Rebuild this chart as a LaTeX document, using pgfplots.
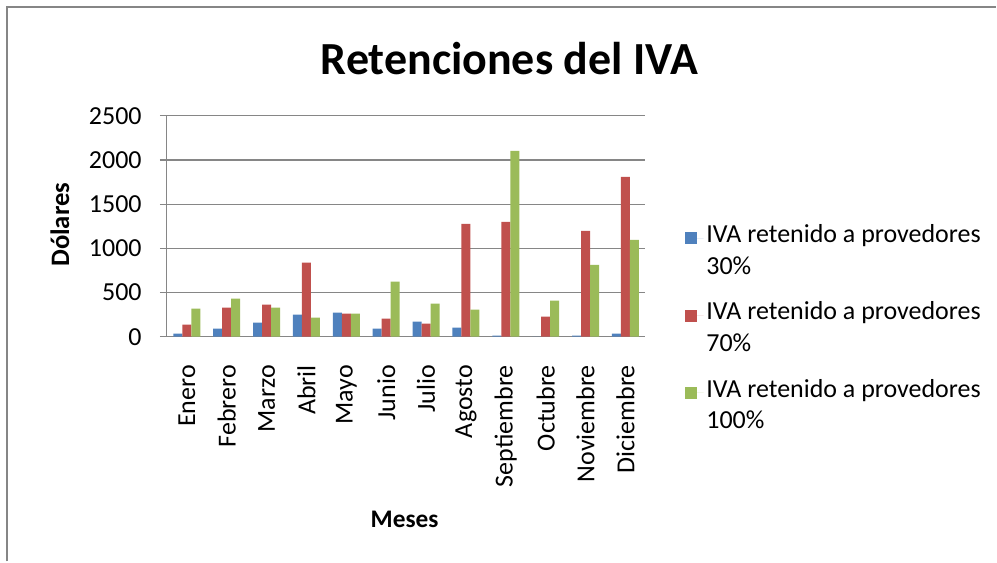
\documentclass[border=0pt]{standalone}
\usepackage{fontspec}
\setmainfont{Carlito}
\usepackage{pgfplots}
\pgfplotsset{compat=1.18}
\definecolor{cblue}{HTML}{4F81BD}
\definecolor{cred}{HTML}{C0504D}
\definecolor{cgreen}{HTML}{9BBB59}
\definecolor{cgrid}{HTML}{868686}
\pgfplotsset{sqlegend/.style={legend image code/.code={\fill[##1] (0pt,4.5pt) rectangle (9pt,13.5pt); \path (9pt,9pt) -- (14pt,9pt);}}}
\begin{document}
\begin{tikzpicture}[x=0.75pt,y=0.75pt]
\path (0,0) rectangle (997,562);
\draw[cgrid, line width=1.5pt] (7,0) -- (7,555) -- (997,555);
\begin{axis}[
  at={(125.25pt,168.75pt)}, anchor=south west,
  scale only axis, width=359.25pt, height=165.75pt,
  ybar=0pt, bar width=6.75pt,
  xmin=-0.5, xmax=11.5, ymin=0, ymax=2500,
  xtick={0,...,11},
  xticklabels={Enero,Febrero,Marzo,Abril,Mayo,Junio,Julio,Agosto,Septiembre,Octubre,Noviembre,Diciembre},
  ytick={0,500,...,2500},
  axis x line=bottom, axis y line=left,
  axis line style={cgrid, line width=0.9pt, -},
  ymajorgrids, grid style={cgrid, line width=0.9pt},
  xtick style={draw=none},
  ytick style={cgrid, line width=0.9pt},
  tick align=outside, major tick length=5.25pt,
  /pgf/number format/assume math mode=true,
  /pgf/number format/1000 sep={},
  tick label style={font=\fontsize{19.5}{23}\selectfont},
  xticklabel style={rotate=90, anchor=east, inner sep=0pt},
  xticklabel shift=16pt,
  yticklabel style={anchor=east, inner sep=0pt},
  yticklabel shift=13.5pt,
  title={\textbf{Retenciones del IVA}},
  title style={at={(rel axis cs:0.716,1.222)}, anchor=center, font=\fontsize{34.5}{40}\selectfont},
  ylabel={\textbf{Dólares}},
  ylabel style={at={(rel axis cs:-0.2234,0.507)}, anchor=center, rotate=0, font=\fontsize{20}{24}\selectfont},
  xlabel={\textbf{Meses}},
  xlabel style={at={(rel axis cs:0.4969,-0.828)}, anchor=center, font=\fontsize{19}{24}\selectfont},
  legend style={at={(rel axis cs:1.074,0.534)}, anchor=north west, draw=none, fill=none,
    font=\fontsize{19.5}{24}\selectfont, cells={anchor=west, align=left}, row sep=15pt},
  legend cell align=left,
]
\addplot[fill=cblue, draw=none, sqlegend] coordinates {(0,34) (1,90) (2,158) (3,249) (4,271) (5,90) (6,170) (7,102) (8,11) (9,0) (10,11) (11,34)};
\addplot[fill=cred, draw=none, sqlegend] coordinates {(0,136) (1,328) (2,362) (3,837) (4,260) (5,204) (6,147) (7,1278) (8,1301) (9,226) (10,1199) (11,1810)};
\addplot[fill=cgreen, draw=none, sqlegend] coordinates {(0,317) (1,430) (2,328) (3,215) (4,260) (5,622) (6,373) (7,305) (8,2104) (9,407) (10,814) (11,1097)};
\legend{{IVA retenido a provedores\\30\%},{IVA retenido a provedores\\70\%},{IVA retenido a provedores\\100\%}}
\end{axis}
\end{tikzpicture}
\end{document}
